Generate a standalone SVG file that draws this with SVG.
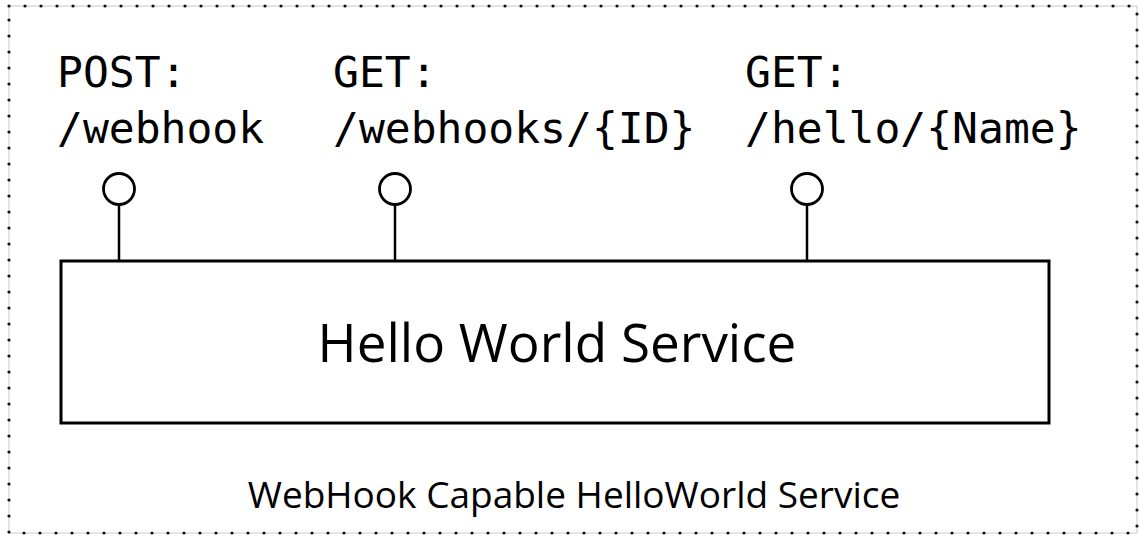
<svg xmlns="http://www.w3.org/2000/svg" width="1139" height="535" viewBox="0 0 1139 535">
  <style>
    .mono { font-family: "DejaVu Sans Mono", "Liberation Mono", monospace; font-size: 43px; fill: #000; }
    .sans { font-family: "Open Sans", "Noto Sans", sans-serif; fill: #000; }
    .edge { stroke: #000; stroke-width: 2.5; fill: none; }
    .port { stroke: #000; stroke-width: 2.8; fill: #fff; }
  </style>
  <rect width="1139" height="535" fill="#fff"/>
  <g id="boundary">
    <rect x="9" y="6" width="1128" height="527" fill="none" stroke="#c8c8c8" stroke-width="1"/>
    <rect x="9" y="6" width="1128" height="527" fill="none" stroke="#111" stroke-width="3.2" stroke-dasharray="0 16" stroke-linecap="round"/>
    <text class="sans" x="574" y="508" font-size="37" text-anchor="middle">WebHook Capable HelloWorld Service</text>
  </g>
  <g id="service">
    <rect x="61" y="261" width="988" height="162" fill="#fff" stroke="#000" stroke-width="3"/>
    <text class="sans" x="557" y="362" font-size="53" text-anchor="middle">Hello World Service</text>
  </g>
  <g id="connectors">
    <line class="edge" x1="119" y1="205" x2="119" y2="261"/>
    <line class="edge" x1="395" y1="205" x2="395" y2="261"/>
    <line class="edge" x1="807" y1="205" x2="807" y2="261"/>
  </g>
  <g id="port-post-webhook">
    <circle class="port" cx="119" cy="189" r="15.5"/>
    <text class="mono" x="57" y="87">POST:</text>
    <text class="mono" x="57" y="143">/webhook</text>
  </g>
  <g id="port-get-webhooks">
    <circle class="port" cx="395" cy="189" r="15.5"/>
    <text class="mono" x="333" y="87">GET:</text>
    <text class="mono" x="333" y="143">/webhooks/{ID}</text>
  </g>
  <g id="port-get-hello">
    <circle class="port" cx="807" cy="189" r="15.5"/>
    <text class="mono" x="745" y="87">GET:</text>
    <text class="mono" x="745" y="143">/hello/{Name}</text>
  </g>
</svg>
